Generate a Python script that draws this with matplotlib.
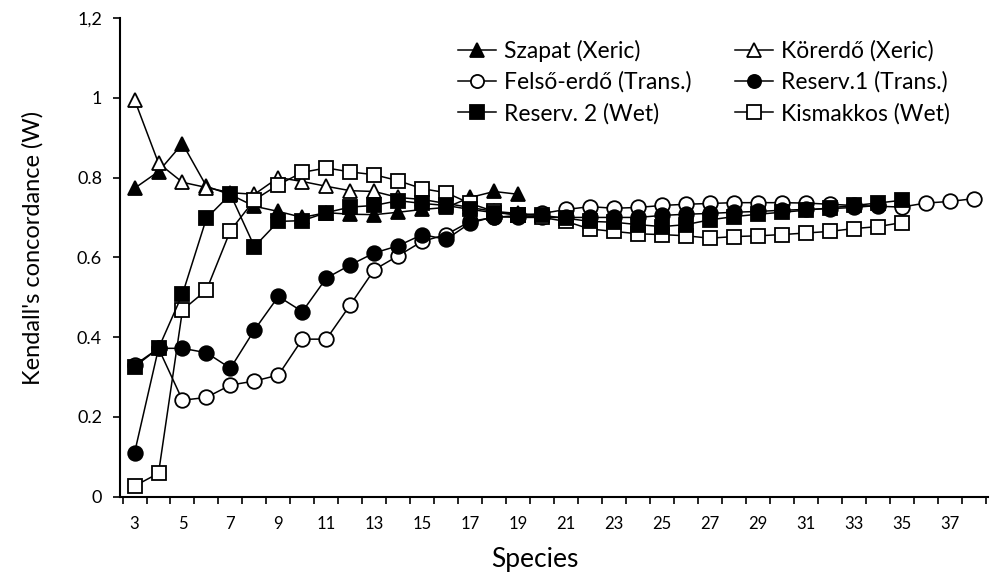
import matplotlib.pyplot as plt
import numpy as np

plt.rcParams['font.family'] = ['Lato', 'DejaVu Sans']

species = list(range(3, 39))

szapat = [0.773, 0.815, 0.885, 0.778, 0.757, 0.728, 0.715, 0.700, 0.712, 0.708,
          0.707, 0.713, 0.720, 0.725, 0.750, 0.765, 0.758]
korerdo = [0.995, 0.836, 0.788, 0.775, 0.762, 0.758, 0.800, 0.790, 0.778, 0.767,
           0.765, 0.750, 0.745, 0.735, 0.725, 0.715, 0.710, 0.705]
felso = [0.330, 0.372, 0.242, 0.249, 0.280, 0.290, 0.305, 0.395, 0.395, 0.481,
         0.569, 0.604, 0.640, 0.657, 0.690, 0.700, 0.705, 0.710, 0.720, 0.727,
         0.723, 0.725, 0.730, 0.733, 0.735, 0.737, 0.737, 0.737, 0.736, 0.733,
         0.730, 0.728, 0.726, 0.736, 0.740, 0.747]
reserv1 = [0.110, 0.372, 0.372, 0.361, 0.322, 0.418, 0.502, 0.464, 0.548, 0.581,
           0.611, 0.629, 0.657, 0.645, 0.686, 0.702, 0.700, 0.700, 0.700, 0.700,
           0.700, 0.700, 0.705, 0.708, 0.710, 0.713, 0.715, 0.718, 0.720, 0.722,
           0.725, 0.730]
reserv2 = [0.326, 0.372, 0.508, 0.698, 0.758, 0.627, 0.690, 0.692, 0.712, 0.726,
           0.730, 0.742, 0.735, 0.730, 0.720, 0.712, 0.707, 0.705, 0.698, 0.690,
           0.688, 0.682, 0.677, 0.682, 0.694, 0.702, 0.708, 0.713, 0.718, 0.724,
           0.730, 0.736, 0.743]
kismakkos = [0.027, 0.059, 0.468, 0.518, 0.667, 0.744, 0.782, 0.813, 0.824, 0.814,
             0.807, 0.792, 0.772, 0.762, 0.735, 0.715, 0.705, 0.700, 0.690, 0.671,
             0.665, 0.659, 0.657, 0.654, 0.648, 0.652, 0.654, 0.657, 0.661, 0.665,
             0.672, 0.677, 0.687]

fig = plt.figure(figsize=(9.93, 5.77), dpi=100)
ax = fig.add_axes([0.121, 0.139, 0.874, 0.83])

common = dict(color='black', lw=1.1, markersize=10.5, markeredgewidth=1.3,
              markeredgecolor='black')

def xs(vals):
    return species[:len(vals)]

l1, = ax.plot(xs(szapat), szapat, marker='^', markerfacecolor='black',
              label='Szapat (Xeric)', **common)
l2, = ax.plot(xs(korerdo), korerdo, marker='^', markerfacecolor='white',
              label='Körerdő (Xeric)', **common)
l3, = ax.plot(xs(felso), felso, marker='o', markerfacecolor='white',
              label='Felső-erdő (Trans.)', **common)
l4, = ax.plot(xs(reserv1), reserv1, marker='o', markerfacecolor='black',
              label='Reserv.1 (Trans.)', **common)
l6, = ax.plot(xs(kismakkos), kismakkos, marker='s', markerfacecolor='white',
              label='Kismakkos (Wet)', **common)
l5, = ax.plot(xs(reserv2), reserv2, marker='s', markerfacecolor='black',
              label='Reserv. 2 (Wet)', **common)

ax.set_xlim(2.4, 38.6)
ax.set_ylim(0, 1.2)
ax.set_xticks(np.arange(2.5, 39, 1.0))
ax.set_xticklabels([])
ax.set_xticks(np.arange(3, 38, 2), minor=True)
ax.set_xticklabels([str(v) for v in range(3, 38, 2)], minor=True, fontsize=12)
ax.tick_params(axis='x', which='minor', length=0, pad=14)
ax.tick_params(axis='x', which='major', length=5, width=1.2, direction='out')

ax.set_yticks([0, 0.2, 0.4, 0.6, 0.8, 1.0, 1.2])
ax.set_yticklabels(['0', '0.2', '0.4', '0.6', '0.8', '1', '1,2'], fontsize=13)
ax.tick_params(axis='y', length=5, width=1.2, direction='out', pad=8)

for s in ['top', 'right']:
    ax.spines[s].set_visible(False)
for s in ['left', 'bottom']:
    ax.spines[s].set_linewidth(1.5)

ax.set_ylabel("Kendall's concordance (W)", fontsize=17)
ax.yaxis.set_label_coords(-0.088, 0.52)
ax.set_xlabel('Species', fontsize=19)
ax.xaxis.set_label_coords(0.478, -0.105)

ax.legend(handles=[l1, l3, l5, l2, l4, l6], ncol=2, frameon=False,
          loc='upper left', bbox_to_anchor=(0.366, 0.998), fontsize=16.5,
          handlelength=1.65, handletextpad=0.35, columnspacing=1.9,
          labelspacing=0.43, markerscale=0.9)

fig.savefig('out.png', dpi=100)
